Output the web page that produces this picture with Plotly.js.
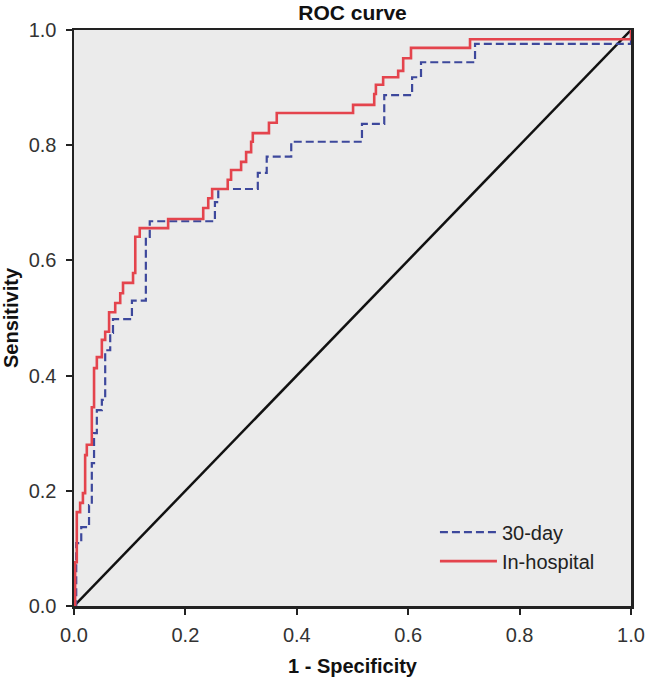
<!DOCTYPE html>
<html>
<head>
<meta charset="utf-8">
<script src="https://cdn.plot.ly/plotly-3.0.1.min.js"></script>
<style>html,body{margin:0;padding:0;background:#fff;}#chart{width:646px;height:680px;}</style>
</head>
<body>
<div id="chart"></div>
<script>
// ROC points (1 - specificity, sensitivity): top of each vertical rise
const inHospitalFPR = [0, 0.002, 0.005, 0.011, 0.016, 0.020, 0.023, 0.032, 0.036, 0.041, 0.050, 0.056, 0.063, 0.074, 0.083, 0.088, 0.106, 0.110, 0.118, 0.169, 0.232, 0.241, 0.248, 0.276, 0.282, 0.300, 0.309, 0.318, 0.321, 0.350, 0.364, 0.501, 0.539, 0.542, 0.555, 0.582, 0.591, 0.605, 0.711, 1.0];
const inHospitalTPR = [0, 0.076, 0.163, 0.179, 0.196, 0.262, 0.280, 0.345, 0.413, 0.432, 0.462, 0.476, 0.510, 0.526, 0.543, 0.561, 0.578, 0.641, 0.656, 0.672, 0.691, 0.708, 0.724, 0.740, 0.757, 0.771, 0.788, 0.806, 0.821, 0.839, 0.856, 0.870, 0.889, 0.905, 0.918, 0.929, 0.951, 0.969, 0.984, 1.0];

const day30FPR = [0, 0.004, 0.013, 0.027, 0.032, 0.036, 0.041, 0.050, 0.056, 0.065, 0.070, 0.104, 0.129, 0.136, 0.253, 0.259, 0.330, 0.346, 0.390, 0.517, 0.557, 0.607, 0.623, 0.720, 1.0];
const day30TPR = [0, 0.109, 0.137, 0.175, 0.248, 0.300, 0.340, 0.358, 0.444, 0.474, 0.498, 0.530, 0.641, 0.668, 0.701, 0.724, 0.752, 0.780, 0.806, 0.837, 0.887, 0.918, 0.944, 0.976, 1.0];

const refX = [0, 1];
const refY = [0, 1];

const tickVals = [0, 0.2, 0.4, 0.6, 0.8, 1.0];
const tickText = ['0.0', '0.2', '0.4', '0.6', '0.8', '1.0'];

const FONT = 'Liberation Sans, Arial, sans-serif';

const traces = [
  {x: refX, y: refY, mode: 'lines', line: {color: '#111', width: 2.5}, showlegend: false, hoverinfo: 'skip'},
  {x: day30FPR, y: day30TPR, name: '30-day', mode: 'lines', line: {color: '#3d489c', width: 2.2, dash: '8px,4px', shape: 'hv'}},
  {x: inHospitalFPR, y: inHospitalTPR, name: 'In-hospital', mode: 'lines', line: {color: '#e4444d', width: 2.6, shape: 'hv'}}
];

const axisCommon = {
  range: [0, 1],
  tickvals: tickVals,
  ticktext: tickText,
  ticks: 'outside',
  ticklen: 6,
  tickwidth: 2,
  tickcolor: '#222',
  showline: true,
  linecolor: '#222',
  linewidth: 2.5,
  mirror: true,
  showgrid: false,
  zeroline: false,
  tickfont: {family: FONT, size: 20, color: '#333'},
  fixedrange: true
};

const layout = {
  width: 646,
  height: 680,
  margin: {l: 74, r: 15, t: 30, b: 74},
  paper_bgcolor: '#ffffff',
  plot_bgcolor: '#ebebeb',
  title: {text: '<b>ROC curve</b>', font: {family: FONT, size: 21, color: '#111'}, x: 0.5, xref: 'paper', y: 0.982, yref: 'container', yanchor: 'middle'},
  xaxis: Object.assign({}, axisCommon, {ticklabelstandoff: 3, title: {text: '<b>1 - Specificity</b>', font: {family: FONT, size: 20, color: '#111'}, standoff: 15}}),
  yaxis: Object.assign({}, axisCommon, {ticklabelstandoff: 5, title: {text: '<b>Sensitivity</b>', font: {family: FONT, size: 20, color: '#111'}, standoff: 8}}),
  legend: {x: 0.648, y: 0.044, xanchor: 'left', yanchor: 'bottom', bgcolor: 'rgba(0,0,0,0)', font: {family: FONT, size: 20, color: '#222'}, itemwidth: 57, tracegroupgap: 0},
  showlegend: true
};

Plotly.newPlot('chart', traces, layout, {displayModeBar: false, staticPlot: true});
</script>
</body>
</html>
